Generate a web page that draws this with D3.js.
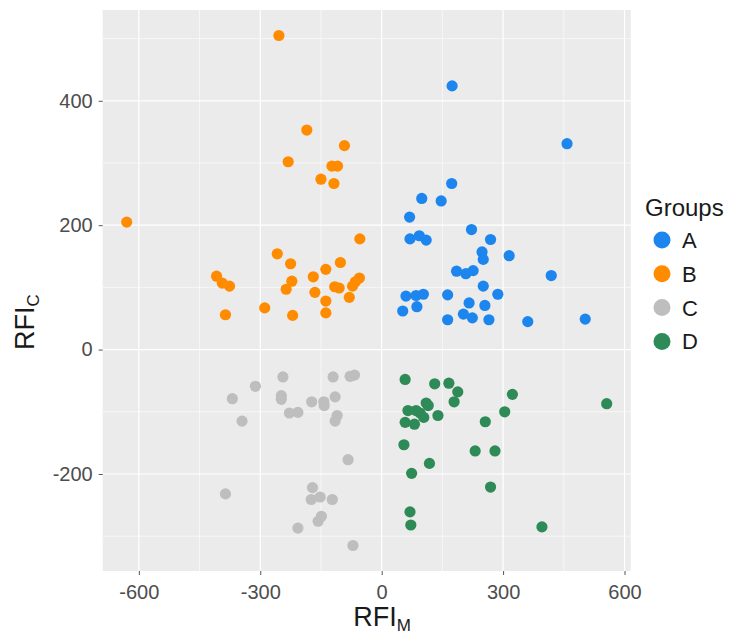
<!DOCTYPE html>
<html>
<head>
<meta charset="utf-8">
<script src="https://cdn.jsdelivr.net/npm/d3@7"></script>
<style>
  html, body { margin: 0; padding: 0; background: #ffffff; }
  svg { display: block; font-family: "Liberation Sans", Arial, sans-serif; }
</style>
</head>
<body>
<svg id="chart" width="731" height="636"></svg>
<script>
// Group labels and their colours
const groups = ["A", "B", "C", "D"];
const groupColors = ["#1C86EE", "#FF8C00", "#BEBEBE", "#2E8B57"];

// RFI_M (x) and RFI_C (y) values per group
const groupA_x = [174, 458, 173, 99, 147, 69, 222, 70, 93, 110, 269, 248, 251, 315, 185, 208, 226, 419, 251, 60, 85, 103, 163, 287, 52, 87, 216, 255, 163, 202, 224, 265, 361, 503];
const groupA_y = [424, 331, 267, 243, 239, 213, 193, 178, 183, 176, 177, 157, 145, 151, 126, 122, 127, 119, 102, 86, 87, 89, 88, 89, 62, 69, 75, 71, 48, 57, 51, 48, 45, 49];

const groupB_x = [-254, -185, -92, -231, -123, -109, -150, -118, -630, -54, -258, -225, -102, -138, -169, -408, -394, -376, -222, -236, -165, -116, -105, -55, -65, -72, -80, -138, -138, -289, -220, -386];
const groupB_y = [505, 353, 328, 302, 295, 295, 274, 267, 205, 178, 154, 138, 140, 129, 117, 118, 107, 102, 110, 97, 92, 101, 99, 115, 109, 102, 84, 78, 59, 67, 55, 56];

const groupC_x = [-244, -120, -78, -67, -312, -369, -248, -248, -173, -143, -142, -115, -228, -207, -110, -115, -345, -83, -386, -171, -174, -152, -122, -149, -157, -207, -71];
const groupC_y = [-44, -44, -43, -41, -59, -79, -74, -80, -84, -84, -90, -76, -102, -101, -106, -115, -115, -177, -232, -222, -241, -237, -241, -268, -276, -287, -315];

const groupD_x = [58, 131, 166, 188, 323, 110, 115, 179, 556, 65, 85, 95, 104, 139, 304, 58, 81, 256, 55, 231, 280, 118, 74, 269, 70, 72, 396];
const groupD_y = [-48, -55, -54, -68, -72, -86, -90, -84, -87, -98, -98, -102, -109, -106, -100, -117, -120, -116, -153, -163, -163, -183, -199, -221, -261, -282, -285];

// Axis ticks
const xTicks = [-600, -300, 0, 300, 600];
const yTicks = [-200, 0, 200, 400];
const xMinor = [-450, -150, 150, 450];
const yMinor = [-300, -100, 100, 300, 500];

const seriesX = [groupA_x, groupB_x, groupC_x, groupD_x];
const seriesY = [groupA_y, groupB_y, groupC_y, groupD_y];

const points = [];
groups.forEach((g, gi) => {
  seriesX[gi].forEach((xv, i) => points.push({ group: g, x: xv, y: seriesY[gi][i] }));
});

// Panel geometry
const panel = { left: 102.7, right: 630.7, top: 10, bottom: 571 };

// Domains padded 5% on each side
function padded(values) {
  const [lo, hi] = d3.extent(values);
  const pad = (hi - lo) * 0.05;
  return [lo - pad, hi + pad];
}
const x = d3.scaleLinear().domain(padded(points.map(d => d.x))).range([panel.left, panel.right]);
const y = d3.scaleLinear().domain(padded(points.map(d => d.y))).range([panel.bottom, panel.top]);
const color = d3.scaleOrdinal().domain(groups).range(groupColors);

const svg = d3.select("#chart");

// Panel background
svg.append("rect")
  .attr("x", panel.left).attr("y", panel.top)
  .attr("width", panel.right - panel.left).attr("height", panel.bottom - panel.top)
  .attr("fill", "#EBEBEB");

const grid = svg.append("g");
// Minor grid
grid.selectAll(".vminor").data(xMinor).join("line")
  .attr("x1", d => x(d)).attr("x2", d => x(d))
  .attr("y1", panel.top).attr("y2", panel.bottom)
  .attr("stroke", "#ffffff").attr("stroke-width", 0.6);
grid.selectAll(".hminor").data(yMinor).join("line")
  .attr("y1", d => y(d)).attr("y2", d => y(d))
  .attr("x1", panel.left).attr("x2", panel.right)
  .attr("stroke", "#ffffff").attr("stroke-width", 0.6);
// Major grid
grid.selectAll(".vmajor").data(xTicks).join("line")
  .attr("x1", d => x(d)).attr("x2", d => x(d))
  .attr("y1", panel.top).attr("y2", panel.bottom)
  .attr("stroke", "#ffffff").attr("stroke-width", 1.2);
grid.selectAll(".hmajor").data(yTicks).join("line")
  .attr("y1", d => y(d)).attr("y2", d => y(d))
  .attr("x1", panel.left).attr("x2", panel.right)
  .attr("stroke", "#ffffff").attr("stroke-width", 1.2);

// Points
svg.append("g").selectAll("circle").data(points).join("circle")
  .attr("cx", d => x(d.x))
  .attr("cy", d => y(d.y))
  .attr("r", 5.6)
  .attr("fill", d => color(d.group));

// Axes (plain hyphen for negative numbers)
const plain = d => String(d);
const xAxis = d3.axisBottom(x).tickValues(xTicks).tickSize(4).tickPadding(6).tickFormat(plain);
const yAxis = d3.axisLeft(y).tickValues(yTicks).tickSize(4).tickPadding(6).tickFormat(plain);

const gx = svg.append("g").attr("transform", `translate(0,${panel.bottom})`).call(xAxis);
const gy = svg.append("g").attr("transform", `translate(${panel.left},0)`).call(yAxis);
[gx, gy].forEach(g => {
  g.select(".domain").remove();
  g.selectAll(".tick line").attr("stroke", "#555555").attr("stroke-width", 1);
  g.selectAll(".tick text")
    .attr("fill", "#4D4D4D")
    .style("font-size", "20px")
    .style("font-family", "'Liberation Sans', Arial, sans-serif");
});
gx.selectAll(".tick text").attr("dy", "0.9em");

// Axis titles with subscripts
const xTitle = svg.append("text")
  .attr("x", 382).attr("y", 626)
  .attr("text-anchor", "middle")
  .attr("fill", "#1a1a1a")
  .style("font-size", "27px");
xTitle.append("tspan").text("RFI");
xTitle.append("tspan").attr("dy", 5).style("font-size", "17px").text("M");

const yTitle = svg.append("text")
  .attr("transform", "translate(34,322) rotate(-90)")
  .attr("text-anchor", "middle")
  .attr("fill", "#1a1a1a")
  .style("font-size", "27px");
yTitle.append("tspan").text("RFI");
yTitle.append("tspan").attr("dy", 5).style("font-size", "17px").text("C");

// Legend
const legend = svg.append("g");
legend.append("text")
  .attr("x", 645).attr("y", 216)
  .attr("fill", "#1a1a1a")
  .style("font-size", "24px")
  .text("Groups");
const items = legend.selectAll(".item").data(groups).join("g")
  .attr("transform", (d, i) => `translate(662,${240 + i * 33.8})`);
items.append("circle").attr("r", 8.5).attr("fill", d => color(d));
items.append("text")
  .attr("x", 20).attr("y", 0).attr("dy", "0.36em")
  .attr("fill", "#1a1a1a")
  .style("font-size", "22px")
  .text(d => d);
</script>
</body>
</html>
